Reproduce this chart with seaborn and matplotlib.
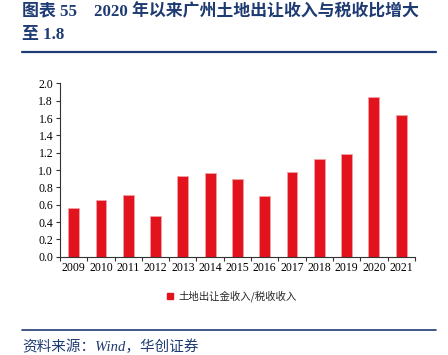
import matplotlib
matplotlib.use("Agg")
import matplotlib.pyplot as plt
import seaborn as sns
import pandas as pd
from matplotlib.lines import Line2D
from matplotlib.patches import Patch
from matplotlib.ticker import FixedLocator

years = ["2009", "2010", "2011", "2012", "2013", "2014", "2015",
         "2016", "2017", "2018", "2019", "2020", "2021"]
ratio = [0.56, 0.65, 0.71, 0.47, 0.93, 0.97, 0.90, 0.70, 0.98, 1.13, 1.18, 1.84, 1.63]
series_name = "土地出让金收入/税收收入"
title_line1 = "图表 55    2020 年以来广州土地出让收入与税收比增大"
title_line2 = "至 1.8"
source = "资料来源：Wind，华创证券"

sns.set_theme(style="white")
plt.rcParams["font.family"] = ["Liberation Serif", "Noto Sans CJK SC"]

df = pd.DataFrame({"year": years, "ratio": ratio})
red = "#E3131E"
navy = "#1F3B73"

fig = plt.figure(figsize=(4.48, 3.55), dpi=100)
ax = fig.add_axes([0.134, 0.277, 0.792, 0.488])
sns.barplot(data=df, x="year", y="ratio", color=red, width=0.4, ax=ax,
            saturation=1, edgecolor="#F2A0A4", linewidth=0.6)

ax.set_ylim(0, 2.0)
ax.set_xlim(-0.5, len(years) - 0.5)
ax.set_yticks([i * 0.2 for i in range(11)])
ax.set_yticklabels([f"{i*0.2:.1f}" for i in range(11)], fontsize=8.5)
ax.set_xticks(range(len(years)))
ax.set_xticklabels(years, fontsize=8.5)
ax.xaxis.set_minor_locator(FixedLocator([i - 0.5 for i in range(len(years) + 1)]))
ax.tick_params(axis="x", which="major", length=0, pad=4, colors="black")
ax.tick_params(axis="x", which="minor", length=3, width=0.8, color="#333333", bottom=True)
ax.tick_params(axis="y", which="major", length=3, width=0.8, color="#333333", left=True, pad=2, colors="black")
ax.set_xlabel("")
ax.set_ylabel("")
for s in ["top", "right"]:
    ax.spines[s].set_visible(False)
for s in ["left", "bottom"]:
    ax.spines[s].set_color("#333333")
    ax.spines[s].set_linewidth(0.8)
ax.grid(False)

handles = [Patch(facecolor=red, edgecolor=red)]
fig.legend(handles, [series_name], loc="center", bbox_to_anchor=(0.518, 0.165),
           frameon=False, handlelength=0.6, handleheight=0.6,
           handletextpad=0.5, prop={"family": ["Noto Sans CJK SC"], "size": 7.5})

fig.text(0.049, 0.966, title_line1, fontsize=12.2, fontweight="bold", color=navy,
         va="center", ha="left")
fig.text(0.049, 0.900, title_line2, fontsize=12.2, fontweight="bold", color=navy,
         va="center", ha="left")
fig.add_artist(Line2D([0.049, 0.974], [0.853, 0.853], color=navy, linewidth=1.6))
fig.add_artist(Line2D([0.049, 0.974], [0.07, 0.07], color=navy, linewidth=1.2))
fig.text(0.049, 0.022, source, fontsize=10.5, style="italic", color=navy,
         va="center", ha="left")

fig.savefig("out.png", dpi=100)
